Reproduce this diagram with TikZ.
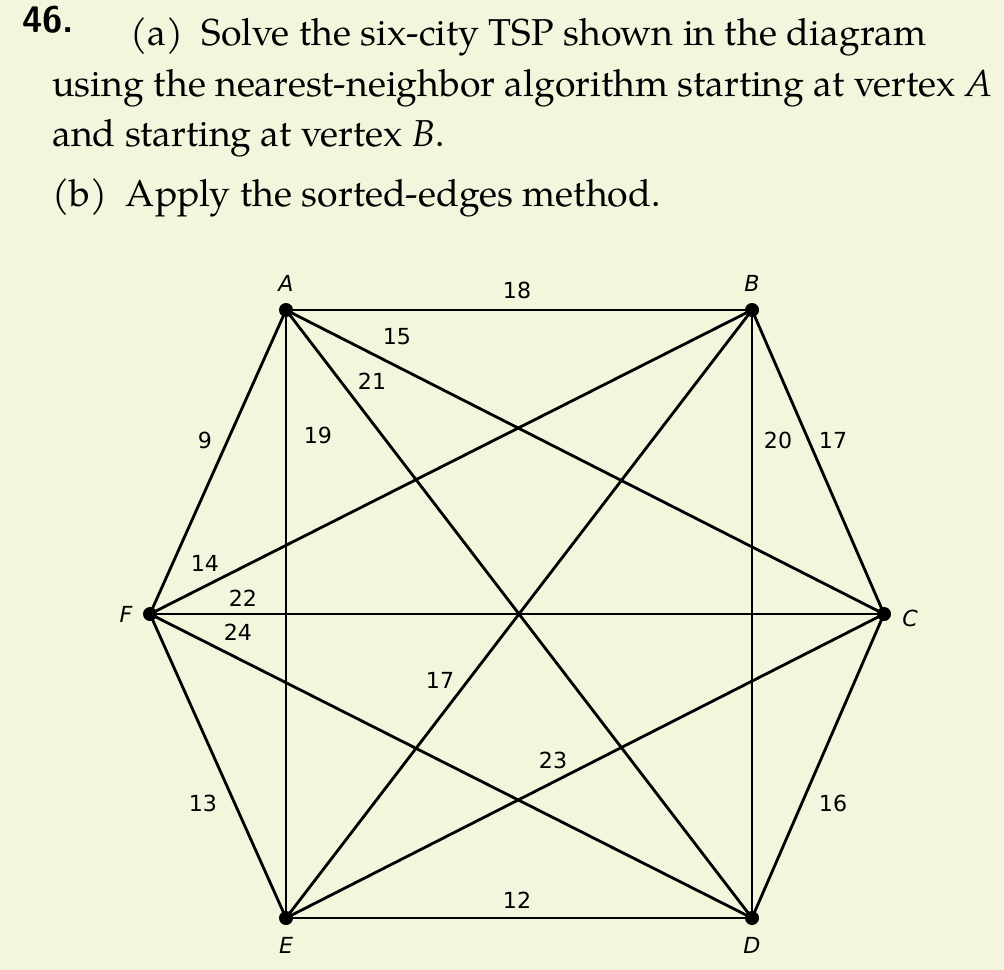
\documentclass[tikz,border=0pt]{standalone}
\usepackage{fontspec}
\setmainfont{TeX Gyre Pagella}
\newfontfamily\lab{DejaVu Sans}[Scale=0.9]
\definecolor{bg}{RGB}{243,245,221}
\begin{document}
\begin{tikzpicture}[x=0.02cm,y=-0.02cm,
  vtx/.style={circle,fill=black,inner sep=0pt,minimum size=0.28cm},
  edge/.style={line width=1.6pt},
  wl/.style={font=\lab\fontsize{14}{16}\selectfont,inner sep=1pt},
  vl/.style={font=\lab\itshape\fontsize{14}{16}\selectfont},
  txt/.style={anchor=west,font=\fontsize{21.3}{24}\selectfont,inner sep=0pt}]
\fill[bg] (0,0) rectangle (1004,970);
\useasboundingbox (0,0) rectangle (1004,970);
\node[anchor=west,inner sep=0pt,font=\sffamily\bfseries\fontsize{21}{24}\selectfont] (num) at (22,20) {46.};
\node[txt] (l1) at (130,37) {(a)\enspace Solve the six-city TSP shown in the diagram};
\node[txt] (l2) at (52,88) {using the nearest-neighbor algorithm starting at vertex \textit{A}};
\node[txt] (l3) at (52,138) {and starting at vertex \textit{B}.};
\node[txt] (l4) at (52,198) {(b)\enspace Apply the sorted-edges method.};
\node[vtx] (A) at (286,310) {};
\node[vtx] (B) at (752,310) {};
\node[vtx] (C) at (884,614) {};
\node[vtx] (D) at (752,918) {};
\node[vtx] (E) at (286,918) {};
\node[vtx] (F) at (150,614) {};
\foreach \u/\v in {A/B,A/C,A/D,A/E,A/F,B/C,B/D,B/E,B/F,C/D,C/E,C/F,D/E,D/F,E/F}
  \draw[edge] (\u.center) -- (\v.center);
\node[vl] (lA) at (286,283) {A};
\node[vl] (lB) at (752,283) {B};
\node[vl] (lC) at (910,618) {C};
\node[vl] (lD) at (752,945) {D};
\node[vl] (lE) at (286,945) {E};
\node[vl] (lF) at (126,614) {F};
\node[wl] (w1) at (517,290) {18};
\node[wl] (w2) at (397,337) {15};
\node[wl] (w3) at (372,381) {21};
\node[wl] (w4) at (205,440) {9};
\node[wl] (w5) at (318,435) {19};
\node[wl] (w6) at (778,440) {20};
\node[wl] (w7) at (833,440) {17};
\node[wl] (w8) at (205,563) {14};
\node[wl] (w9) at (243,598) {22};
\node[wl] (w10) at (238,632) {24};
\node[wl] (w11) at (440,680) {17};
\node[wl] (w12) at (553,760) {23};
\node[wl] (w13) at (203,803) {13};
\node[wl] (w14) at (833,803) {16};
\node[wl] (w15) at (517,900) {12};
\end{tikzpicture}
\end{document}
